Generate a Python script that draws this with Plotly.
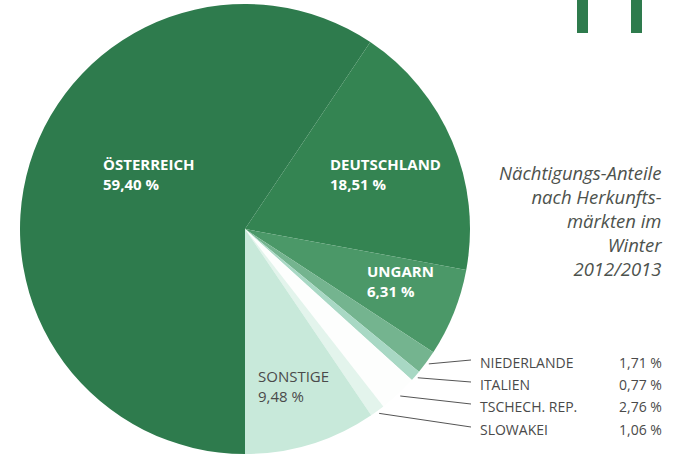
import math
import plotly.graph_objects as go

# ---- data ----
categories = ["ÖSTERREICH", "DEUTSCHLAND", "UNGARN", "NIEDERLANDE", "ITALIEN",
              "TSCHECH. REP.", "SLOWAKEI", "SONSTIGE"]
values = [59.40, 18.51, 6.31, 1.71, 0.77, 2.76, 1.06, 9.48]
value_labels = ["59,40 %", "18,51 %", "6,31 %", "1,71 %", "0,77 %", "2,76 %", "1,06 %", "9,48 %"]
colors = ["#2e7b4d", "#348452", "#4b9868", "#74b48f", "#a8d8c4", "#fdfefd", "#e3f4ec", "#c8e9da"]
title_lines = ["Nächtigungs-Anteile", "nach Herkunfts-", "märkten im", "Winter", "2012/2013"]

W, H = 680, 457
cx, cy, R = 245, 229, 225  # pie geometry in pixels (layout only)

fig = go.Figure(go.Pie(
    labels=categories,
    values=values,
    sort=False,
    direction="clockwise",
    rotation=180,
    marker=dict(colors=colors, line=dict(width=0)),
    textinfo="none",
    hoverinfo="label+percent",
    domain=dict(x=[(cx - R) / W, (cx + R) / W], y=[1 - (cy + R) / H, 1 - (cy - R) / H]),
    showlegend=False,
))

def px(x):
    return x / W

def py(y):
    return 1 - y / H

ann = []
shapes = []

# inside labels (big slices)
inside = {0: (101, 174, "white", True), 1: (328, 174, "white", True),
          2: (365, 281, "white", True), 7: (256, 386, "#4a4a4a", False)}
for i, (x, y, col, bold) in inside.items():
    name = categories[i]
    txt = f"<b>{name}<br>{value_labels[i]}</b>" if bold else f"{name}<br>{value_labels[i]}"
    ann.append(dict(x=px(x), y=py(y), xref="paper", yref="paper", text=txt,
                    showarrow=False, xanchor="left", yanchor="middle", align="left",
                    font=dict(family="Open Sans", size=15, color=col)))

# small slices with leader lines
total = sum(values)
cum = 0
mids = []
for v in values:
    mids.append(180 + (cum + v / 2) / total * 360)
    cum += v
row_y = [362, 384, 406, 429]
for k, i in enumerate([3, 4, 5, 6]):
    ang = math.radians(mids[i])
    sx = cx + (R + 3) * math.sin(ang)
    sy = cy - (R + 3) * math.cos(ang)
    shapes.append(dict(type="line", xref="paper", yref="paper",
                       x0=px(sx), y0=py(sy), x1=px(471), y1=py(row_y[k] - 2),
                       line=dict(color="#555555", width=1)))
    ann.append(dict(x=px(478), y=py(row_y[k]), xref="paper", yref="paper",
                    text=categories[i], showarrow=False, xanchor="left", yanchor="middle",
                    font=dict(family="Open Sans", size=14, color="#4a4a4a")))
    ann.append(dict(x=px(664), y=py(row_y[k]), xref="paper", yref="paper",
                    text=value_labels[i], showarrow=False, xanchor="right", yanchor="middle",
                    font=dict(family="Open Sans", size=14, color="#4a4a4a")))

# title (right aligned, italic)
ann.append(dict(x=px(664), y=py(220), xref="paper", yref="paper",
                text="<br>".join(f"<i>{l}</i>" for l in title_lines),
                showarrow=False, xanchor="right", yanchor="middle", align="right",
                font=dict(family="Open Sans", size=18.5, color="#4d524d")))

# decorative bars top right
for x0, x1 in [(577, 588), (631, 642)]:
    shapes.append(dict(type="rect", xref="paper", yref="paper",
                       x0=px(x0), x1=px(x1), y0=py(33), y1=1.0,
                       fillcolor="#2e7b4d", line=dict(width=0)))

fig.update_layout(
    width=W, height=H,
    margin=dict(l=0, r=0, t=0, b=0),
    paper_bgcolor="white", plot_bgcolor="white",
    annotations=ann, shapes=shapes,
)

fig.write_html("out.html")
